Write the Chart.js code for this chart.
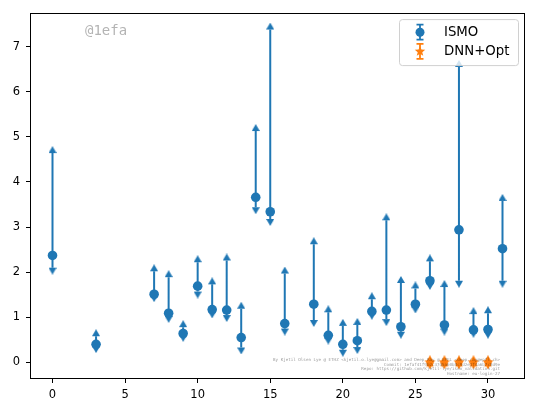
<!DOCTYPE html>
<html><head><meta charset="utf-8">
<script src="https://cdn.jsdelivr.net/npm/chart.js@4.4.0/dist/chart.umd.min.js"></script>
<style>html,body{margin:0;padding:0;background:#fff}</style>
</head><body>
<canvas id="c" width="534" height="413"></canvas>
<script>
// ---- data ----
const ismoX    = [0,3,7,8,9,10,11,12,13,14,15,16,18,19,20,21,22,23,24,25,26,27,28,29,30,31];
const ismoY    = [2.37,0.40,1.51,1.09,0.64,1.69,1.17,1.16,0.55,3.66,3.34,0.86,1.29,0.60,0.40,0.48,1.13,1.16,0.79,1.29,1.81,0.83,2.94,0.72,0.73,2.52];
const ismoLow  = [2.10,0.36,1.49,1.03,0.61,1.57,1.13,1.05,0.33,3.44,3.18,0.75,0.94,0.55,0.28,0.34,1.10,0.96,0.68,1.24,1.76,0.75,1.81,0.70,0.68,1.81];
const ismoHigh = [4.64,0.58,2.02,1.89,0.78,2.22,1.73,2.26,1.19,5.13,7.38,1.97,2.62,1.11,0.81,0.83,1.40,3.15,1.76,1.64,2.24,1.67,6.55,1.07,1.09,3.58];
const dnnX     = [26,27,28,29,30];
const dnnY     = [0,0,0,0,0];
const dnnLow   = [0,0,0,0,0];
const dnnHigh  = [0,0,0,0,0];
const xTicks   = [0,5,10,15,20,25,30];
const yTicks   = [0,1,2,3,4,5,6,7];
const seriesNames = ['ISMO','DNN+Opt'];
const watermark = '@1efa';
const creditLines = [
  'By Kjetil Olsen Lye @ ETHZ <kjetil.o.lye@gmail.com> and Deep Ray @ EPFL <deep.ray@epfl.ch>',
  'Commit: 1efaf41f9b2c37d5a60b8c9d2e1f4a6b7c8d9e',
  'Repo: https://github.com/kjetil-lye/ismo_validation.git',
  'Hostname: eu-login-27'
];

const BLUE = '#1f77b4', ORANGE = '#ff7f0e';

function caret(color, up) {
  const w = 8, h = 7;
  const c = document.createElement('canvas');
  c.width = w; c.height = 2 * h;
  const g = c.getContext('2d');
  g.fillStyle = color;
  g.beginPath();
  if (up) { g.moveTo(w / 2, 0); g.lineTo(w, h); g.lineTo(0, h); }
  else { g.moveTo(0, h); g.lineTo(w, h); g.lineTo(w / 2, 2 * h); }
  g.closePath(); g.fill();
  return c;
}
function starPath(g, cx, cy, ro, ri) {
  g.beginPath();
  for (let i = 0; i < 10; i++) {
    const r = i % 2 ? ri : ro;
    const a = -Math.PI / 2 + i * Math.PI / 5;
    const px = cx + r * Math.cos(a), py = cy + r * Math.sin(a);
    if (i) g.lineTo(px, py); else g.moveTo(px, py);
  }
  g.closePath();
}
function starImg(color) {
  const s = 14;
  const c = document.createElement('canvas');
  c.width = s; c.height = s;
  const g = c.getContext('2d');
  g.fillStyle = color;
  starPath(g, s / 2, s / 2, 6, 2.6);
  g.fill();
  return c;
}

function pts(xs, ys) { return xs.map((x, i) => ({ x: x, y: ys[i] })); }
function segs(xs, lo, hi) {
  const out = [];
  xs.forEach((x, i) => { out.push({ x: x, y: lo[i] }, { x: x, y: hi[i] }, { x: x, y: null }); });
  return out;
}

function margins(arrs) {
  const all = [].concat(...arrs);
  const mn = Math.min(...all), mx = Math.max(...all);
  const m = (mx - mn) * 0.05;
  return [mn - m, mx + m];
}
const [xMin, xMax] = margins([ismoX, dnnX]);
const [yMin, yMax] = margins([ismoLow, ismoHigh, dnnLow, dnnHigh]);

const upBlue = caret(BLUE, true), downBlue = caret(BLUE, false);
const upOr = caret(ORANGE, true), downOr = caret(ORANGE, false);
const star = starImg(ORANGE);

const datasets = [
  { label: seriesNames[0], legend: 'ismo', data: pts(ismoX, ismoY), showLine: false,
    pointStyle: 'circle', pointRadius: 4.8, backgroundColor: BLUE, borderColor: BLUE, borderWidth: 0, order: 0 },
  { label: 'ismo-bars', data: segs(ismoX, ismoLow, ismoHigh), showLine: true, spanGaps: false,
    pointRadius: 0, borderColor: BLUE, borderWidth: 2, order: 3 },
  { label: 'ismo-up', data: pts(ismoX, ismoHigh), showLine: false, pointStyle: upBlue, pointRadius: 4, order: 2 },
  { label: 'ismo-down', data: pts(ismoX, ismoLow), showLine: false, pointStyle: downBlue, pointRadius: 4, order: 2 },
  { label: 'dnn-bars', data: segs(dnnX, dnnLow, dnnHigh), showLine: true, spanGaps: false,
    pointRadius: 0, borderColor: ORANGE, borderWidth: 2, order: 1 },
  { label: seriesNames[1], legend: 'dnn', data: pts(dnnX, dnnY), showLine: false, pointStyle: star, pointRadius: 4, order: 1 },
  { label: 'dnn-up', data: pts(dnnX, dnnHigh), showLine: false, pointStyle: upOr, pointRadius: 4, order: 0 },
  { label: 'dnn-down', data: pts(dnnX, dnnLow), showLine: false, pointStyle: downOr, pointRadius: 4, order: 0 }
];

const decor = {
  id: 'decor',
  afterDatasetsDraw(chart) {
    const { ctx, chartArea: a } = chart;
    ctx.save();
    // watermark
    ctx.font = '14px "DejaVu Sans Mono", monospace';
    ctx.fillStyle = '#b4b4b4';
    ctx.textBaseline = 'middle';
    ctx.textAlign = 'left';
    ctx.fillText(watermark, a.left + 55, a.top + 18.5);
    // credit text
    ctx.font = '4.2px "DejaVu Sans Mono", monospace';
    ctx.fillStyle = 'rgba(0,0,0,0.42)';
    ctx.textAlign = 'right';
    ctx.textBaseline = 'middle';
    creditLines.forEach((t, i) => ctx.fillText(t, a.right - 25, a.bottom - 19 + i * 4.6));
    ctx.restore();
  },
  afterDraw(chart) {
    const { ctx, chartArea: a } = chart;
    ctx.save();
    // legend
    const bw = 119, bh = 46;
    const bx = a.right - 6.5 - bw, by = a.top + 6.7;
    ctx.beginPath();
    ctx.roundRect(bx, by, bw, bh, 3);
    ctx.fillStyle = 'rgba(255,255,255,0.8)';
    ctx.fill();
    ctx.strokeStyle = '#d0d0d0';
    ctx.lineWidth = 1;
    ctx.stroke();
    const entries = chart.data.datasets.filter(d => d.legend);
    entries.forEach((d, i) => {
      const cy = by + 12.6 + i * 19.2;
      const mx = bx + 20.5;
      const col = d.legend === 'ismo' ? BLUE : ORANGE;
      ctx.strokeStyle = col; ctx.fillStyle = col; ctx.lineWidth = 1.8;
      ctx.beginPath(); ctx.moveTo(mx, cy - 7.5); ctx.lineTo(mx, cy + 7.5); ctx.stroke();
      ctx.beginPath(); ctx.moveTo(mx - 3.5, cy - 7.5); ctx.lineTo(mx + 3.5, cy - 7.5);
      ctx.moveTo(mx - 3.5, cy + 7.5); ctx.lineTo(mx + 3.5, cy + 7.5); ctx.stroke();
      if (d.legend === 'ismo') {
        ctx.beginPath(); ctx.arc(mx, cy, 4.5, 0, Math.PI * 2); ctx.fill();
      } else {
        starPath(ctx, mx, cy, 5.5, 2.4); ctx.fill();
      }
      ctx.fillStyle = '#000';
      ctx.font = '13.3px "DejaVu Sans", sans-serif';
      ctx.textAlign = 'left'; ctx.textBaseline = 'middle';
      ctx.fillText(d.label, bx + 44.5, cy + 0.5);
    });
    // frame
    ctx.strokeStyle = '#000';
    ctx.lineWidth = 1;
    ctx.strokeRect(Math.round(a.left) + 0.5, Math.round(a.top) + 0.5, Math.round(a.right - a.left) - 1, Math.round(a.bottom - a.top) - 1);
    ctx.restore();
  }
};

const tickFont = { family: '"DejaVu Sans", sans-serif', size: 11.5 };

new Chart(document.getElementById('c'), {
  type: 'scatter',
  data: { datasets: datasets },
  options: {
    responsive: false,
    animation: false,
    events: [],
    layout: { padding: { top: 10, right: 9, left: 0, bottom: 0 } },
    plugins: { legend: { display: false }, tooltip: { enabled: false } },
    scales: {
      x: {
        type: 'linear', min: xMin, max: xMax,
        afterFit(s) { s.height = 34; },
        afterBuildTicks(s) { s.ticks = xTicks.map(v => ({ value: v })); },
        ticks: { font: tickFont, color: '#000', padding: 5, maxRotation: 0, callback: v => String(v) },
        grid: { display: true, drawOnChartArea: false, drawTicks: true, tickLength: 4, color: '#000', lineWidth: 1 },
        border: { display: false }
      },
      y: {
        type: 'linear', min: yMin, max: yMax,
        afterFit(s) { s.width = 30; },
        afterBuildTicks(s) { s.ticks = yTicks.map(v => ({ value: v })); },
        ticks: { font: tickFont, color: '#000', padding: 6, callback: v => String(v) },
        grid: { display: true, drawOnChartArea: false, drawTicks: true, tickLength: 4, color: '#000', lineWidth: 1 },
        border: { display: false }
      }
    }
  },
  plugins: [decor]
});
</script>
</body></html>
